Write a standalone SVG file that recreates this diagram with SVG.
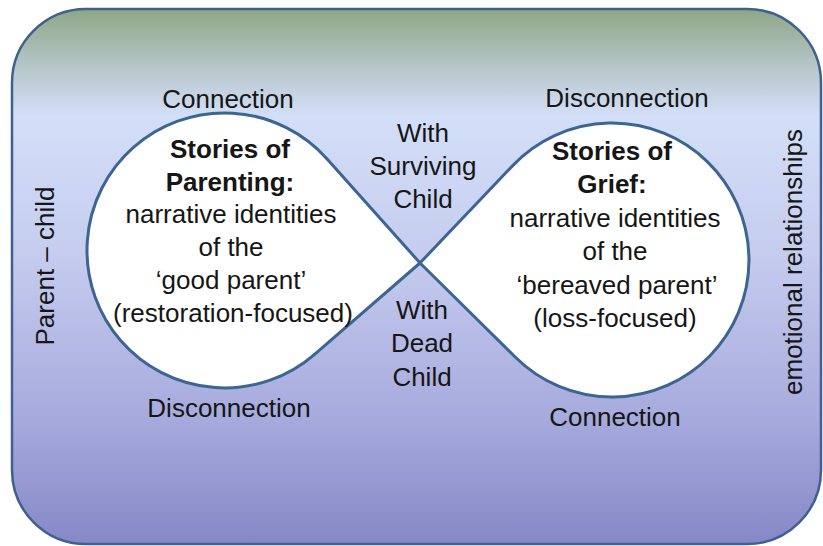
<svg xmlns="http://www.w3.org/2000/svg" width="823" height="546" viewBox="0 0 823 546">
  <defs>
    <linearGradient id="bg" x1="0" y1="0" x2="0" y2="1">
      <stop offset="0" stop-color="#8ea685"/>
      <stop offset="0.1" stop-color="#b3c4c4"/>
      <stop offset="0.2" stop-color="#d3dff8"/>
      <stop offset="0.45" stop-color="#c6cdef"/>
      <stop offset="0.75" stop-color="#a8acde"/>
      <stop offset="1" stop-color="#8688c6"/>
    </linearGradient>
  </defs>
  <style>
    text { font-family: "Liberation Sans", Arial, sans-serif; font-size: 26px; fill: #161616; text-anchor: middle; }
    .b { font-weight: bold; }
    .lobe { fill: #ffffff; stroke: #3d6592; stroke-width: 3; stroke-linejoin: round; }
    .frame { fill: url(#bg); stroke: #3f6190; stroke-width: 2.5; }
  </style>

  <g id="background">
    <rect class="frame" x="12" y="9" width="809" height="535" rx="74" ry="74"/>
  </g>

  <g id="lobe-parenting">
    <path class="lobe" d="M 420 263 L 327.1 158.9 A 137.5 137.5 0 1 0 314.6 354.3 Z"/>
    <text class="b" x="230" y="158">Stories of</text>
    <text class="b" x="230" y="191">Parenting:</text>
    <text x="231" y="223">narrative identities</text>
    <text x="231" y="256">of the</text>
    <text x="231" y="289">‘good parent’</text>
    <text x="233" y="322">(restoration-focused)</text>
  </g>

  <g id="lobe-grief">
    <path class="lobe" d="M 420 263 L 512.7 165.6 A 137 137 0 1 1 515.7 357.5 Z"/>
    <text class="b" x="612" y="160">Stories of</text>
    <text class="b" x="612" y="193">Grief:</text>
    <text x="615" y="227">narrative identities</text>
    <text x="615" y="260">of the</text>
    <text x="617" y="294">‘bereaved parent’</text>
    <text x="615" y="327">(loss-focused)</text>
  </g>

  <g id="label-surviving">
    <text x="423" y="142">With</text>
    <text x="423" y="175">Surviving</text>
    <text x="423" y="208">Child</text>
  </g>

  <g id="label-dead">
    <text x="422" y="319">With</text>
    <text x="422" y="352">Dead</text>
    <text x="422" y="386">Child</text>
  </g>

  <g id="label-top-left"><text x="228" y="108">Connection</text></g>
  <g id="label-top-right"><text x="627" y="107">Disconnection</text></g>
  <g id="label-bottom-left"><text x="229" y="417">Disconnection</text></g>
  <g id="label-bottom-right"><text x="615" y="426">Connection</text></g>

  <g id="label-parent-child"><text transform="translate(54 266) rotate(-90)">Parent – child</text></g>
  <g id="label-emotional"><text transform="translate(802 262) rotate(-90)">emotional relationships</text></g>
</svg>
